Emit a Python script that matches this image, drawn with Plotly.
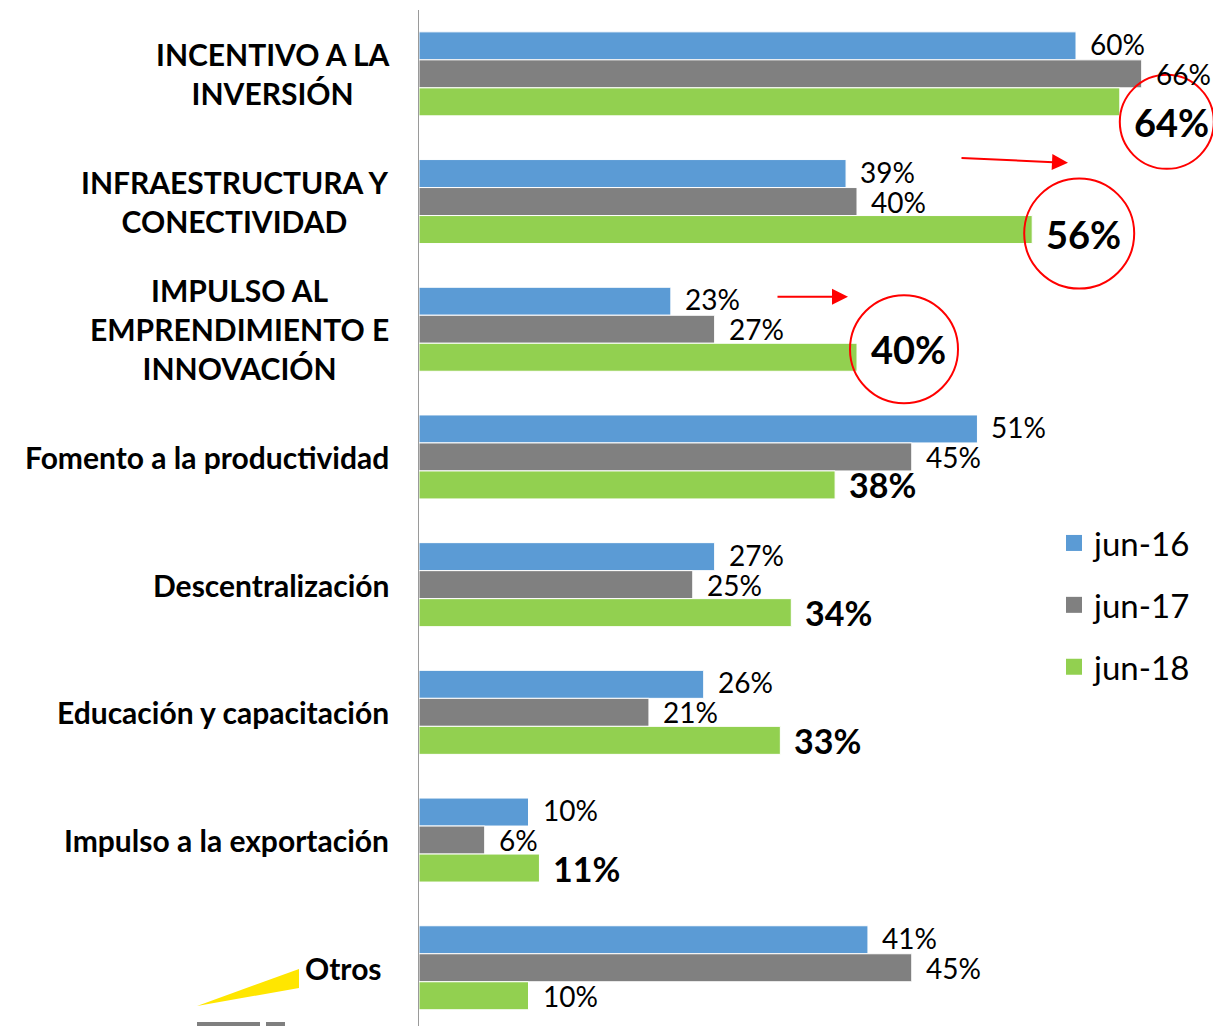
import plotly.graph_objects as go

categories = [
    "INCENTIVO A LA<br>INVERSIÓN",
    "INFRAESTRUCTURA Y<br>CONECTIVIDAD",
    "IMPULSO AL<br>EMPRENDIMIENTO E<br>INNOVACIÓN",
    "Fomento a la productividad",
    "Descentralización",
    "Educación y capacitación",
    "Impulso a la exportación",
    "Otros",
]
series_names = ["jun-16", "jun-17", "jun-18"]
jun16 = [60, 39, 23, 51, 27, 26, 10, 41]
jun17 = [66, 40, 27, 45, 25, 21, 6, 45]
jun18 = [64, 56, 40, 38, 34, 33, 11, 10]
highlighted = [0, 1, 2]          # jun-18 values with a red circle
bold_labels = [0, 1, 2, 3, 4, 5, 6]  # jun-18 values written in bold

COLORS = ["#5B9BD5", "#808080", "#92D050"]
PAGE_OFF = 8                      # body margin of the html page
REF_L, REF_T = 419, 10            # plot area corner in the screenshot
W, H = 1221 - PAGE_OFF, 1026 - PAGE_OFF
M_L, M_T = REF_L - PAGE_OFF, REF_T - PAGE_OFF
PX_PER_PCT = 10.95
X_MAX = (W - M_L) / PX_PER_PCT
CAT_PX = 127.7
BAR_PX = 28
Y_TOP = -0.5
Y_BOTTOM = Y_TOP + (H - M_T) / CAT_PX
LABEL_FONT = "Lato, 'Noto Sans', sans-serif"
NUDGE = [-20, -4, 8]   # vertical shift of circled labels (px, up +)
RADIUS = [47, 55, 54]
SERIES_SHIFT = [2, 0, 0]  # small vertical tweak of the plain labels


def paper_x(px):
    return (px - REF_L) / (W - M_L)


def paper_y(py):
    return 1 - (py - REF_T) / (H - M_T)


fig = go.Figure()
for name, vals, color in zip(series_names, [jun16, jun17, jun18], COLORS):
    fig.add_trace(go.Bar(
        y=categories, x=vals, name=name, orientation="h",
        marker=dict(color=color, line=dict(color="white", width=1)),
        showlegend=False,
    ))
# legend entries with bigger square swatches
for name, color in zip(series_names, COLORS):
    fig.add_trace(go.Scatter(
        x=[None], y=[None], mode="markers", name=name, legendgroup=name,
        marker=dict(symbol="square", size=16, color=color),
    ))

# value labels next to the bars
annotations = []
for s, vals in enumerate([jun16, jun17, jun18]):
    yshift = (1 - s) * BAR_PX + SERIES_SHIFT[s]
    for i, v in enumerate(vals):
        nudge = 0
        if s == 2 and i in highlighted:
            font = dict(family=LABEL_FONT, size=38, color="#000", weight="bold")
            nudge = NUDGE[highlighted.index(i)]
        elif s == 2 and i in bold_labels:
            font = dict(family=LABEL_FONT, size=34, color="#000", weight="bold")
        else:
            font = dict(family=LABEL_FONT, size=28, color="#000")
        annotations.append(dict(
            x=v, y=categories[i], xref="x", yref="y", text=f"{v}%",
            showarrow=False, xanchor="left", yanchor="middle",
            xshift=12, yshift=yshift + nudge, font=font,
        ))

# category labels, centred lines, right aligned block
for c in categories:
    annotations.append(dict(
        x=0, y=c, xref="paper", yref="y", text=c, showarrow=False,
        xanchor="right", yanchor="middle", align="center",
        xshift=-28 - (7 if c == "Otros" else 0),
        font=dict(family=LABEL_FONT, size=30, color="#000", weight="bold"),
    ))

# red arrows
annotations.append(dict(
    x=(1068 - REF_L) / PX_PER_PCT, y=(163 - 74) / CAT_PX, xref="x", yref="y",
    ax=-108, ay=-5, text="", showarrow=True, arrowhead=2, arrowsize=1.6,
    arrowwidth=2, arrowcolor="#FF0000",
))
annotations.append(dict(
    x=(848 - REF_L) / PX_PER_PCT, y=(297 - 74) / CAT_PX, xref="x", yref="y",
    ax=-72, ay=0, text="", showarrow=True, arrowhead=2, arrowsize=1.6,
    arrowwidth=2, arrowcolor="#FF0000",
))

shapes = []
for k, i in enumerate(highlighted):
    cy = -BAR_PX + NUDGE[k]
    r = RADIUS[k]
    shapes.append(dict(
        type="circle", xref="x", yref="y",
        xsizemode="pixel", ysizemode="pixel",
        xanchor=jun18[i], yanchor=i,
        x0=47 - r, x1=47 + r, y0=cy - r, y1=cy + r,
        line=dict(color="#FF0000", width=2),
    ))

# logo fragments bottom left
shapes.append(dict(
    type="path", xref="paper", yref="paper",
    path=(f"M{paper_x(197)},{paper_y(1006)} L{paper_x(299)},{paper_y(969)} "
          f"L{paper_x(299)},{paper_y(988)} Z"),
    fillcolor="#FFE600", line=dict(width=0),
))
for x0, x1 in [(197, 260), (266, 285)]:
    shapes.append(dict(
        type="rect", xref="paper", yref="paper",
        x0=paper_x(x0), x1=paper_x(x1), y0=paper_y(1030), y1=paper_y(1022),
        fillcolor="#7F7F7F", line=dict(width=0),
    ))

fig.update_layout(
    width=W, height=H,
    barmode="group", bargap=1 - 3 * BAR_PX / CAT_PX, bargroupgap=0,
    paper_bgcolor="white", plot_bgcolor="white",
    margin=dict(l=M_L, r=0, t=M_T, b=0),
    xaxis=dict(range=[0, X_MAX], visible=False),
    yaxis=dict(
        range=[Y_BOTTOM, Y_TOP], showticklabels=False, showgrid=False,
        zeroline=False, showline=True, linecolor="#9a9a9a", linewidth=1,
        ticks="",
    ),
    legend=dict(
        x=paper_x(1054), y=paper_y(605), xanchor="left", yanchor="middle",
        font=dict(family=LABEL_FONT, size=33, color="#000"),
        traceorder="grouped", tracegroupgap=16, bgcolor="rgba(0,0,0,0)",
    ),
    annotations=annotations,
    shapes=shapes,
    showlegend=True,
)

fig.write_html("out.html")
